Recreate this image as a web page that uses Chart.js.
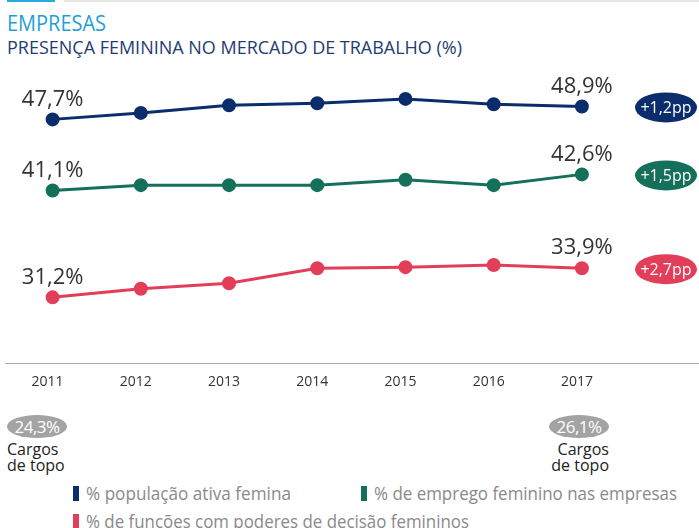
<!DOCTYPE html>
<html>
<head>
<meta charset="utf-8">
<script src="https://cdn.jsdelivr.net/npm/chart.js@4.4.1/dist/chart.umd.min.js"></script>
<style>
  body { margin: 0; background: #fff; font-family: "Open Sans", sans-serif; }
  #page { position: relative; width: 699px; height: 528px; overflow: hidden; }
  .abs { position: absolute; white-space: nowrap; }
  .title { left: 7px; top: 11px; font-size: 22px; line-height: 22px; color: #1e9fd8; transform-origin: left top; }
  .subtitle { left: 7px; top: 38px; font-size: 18px; line-height: 18px; color: #1f3c73; transform-origin: left top; }
  .pill { width: 60px; height: 23px; border-radius: 50%; background: #a3a3a3; color: #fff;
          font-size: 17px; line-height: 23px; text-align: center; letter-spacing: -0.5px; }
  .cargos { font-size: 16px; line-height: 16px; color: #222; }
  .legend-item { font-size: 19px; line-height: 19px; color: #8a8a8a; }
  .legend-bar { position: absolute; width: 6px; height: 15px; }
  .legend-text { position: absolute; transform-origin: left top; }
</style>
</head>
<body>
<div id="page">
  <div class="abs" style="left:7px;top:0;width:48px;height:2px;background:#29a9e1"></div>
  <div class="abs" style="left:64px;top:0;right:0;height:2px;background:#e6e6e6"></div>
  <div class="abs title" id="title">EMPRESAS</div>
  <div class="abs subtitle" id="subtitle">PRESENÇA FEMININA NO MERCADO DE TRABALHO (%)</div>

  <div class="abs" style="left:0;top:0;width:699px;height:410px">
    <canvas id="presencaChart"></canvas>
  </div>

  <div class="abs pill" id="topoStart" style="left:7px;top:415px"></div>
  <div class="abs cargos" style="left:7px;top:441px">Cargos<br>de topo</div>
  <div class="abs pill" id="topoEnd" style="left:549px;top:415px"></div>
  <div class="abs cargos" style="left:549px;top:441px;width:60px;text-align:right">Cargos<br>de topo</div>

  <div id="legend"></div>
</div>

<script>
const years = ["2011", "2012", "2013", "2014", "2015", "2016", "2017"];

// % população ativa feminina
const populacaoAtiva = [47.7, 48.3, 49.0, 49.2, 49.6, 49.1, 48.9];
// % emprego feminino nas empresas
const empregoFeminino = [41.1, 41.6, 41.6, 41.6, 42.1, 41.6, 42.6];
// % funções com poderes de decisão
const decisaoFeminina = [31.2, 32.0, 32.5, 33.9, 34.0, 34.2, 33.9];

// cargos de topo, 2011 e 2017
const cargosTopo = [24.3, 26.1];

const seriesLabels = [
  "% população ativa femina",
  "% de emprego feminino nas empresas",
  "% de funções com poderes de decisão femininos",
];
const seriesColors = ["#0b2d6b", "#14705a", "#e33e59"];

const fmt = (v) => v.toFixed(1).replace(".", ",");

document.getElementById("topoStart").textContent = fmt(cargosTopo[0]) + "%";
document.getElementById("topoEnd").textContent = fmt(cargosTopo[1]) + "%";

// squeeze text to the narrower look of the original font
const squeeze = (el, width) => {
  const w = el.getBoundingClientRect().width;
  if (w > 0) el.style.transform = "scaleX(" + width / w + ")";
};

// legend
const legendPos = [
  { left: 73, top: 484, w: 205 },
  { left: 361, top: 484, w: 303 },
  { left: 73, top: 512, w: 383 },
];
const legendBox = document.getElementById("legend");
seriesLabels.forEach((label, i) => {
  const item = document.createElement("div");
  item.className = "abs legend-item";
  item.style.left = legendPos[i].left + "px";
  item.style.top = legendPos[i].top + "px";
  item.innerHTML =
    '<span class="legend-bar" style="left:0;top:2px;background:' + seriesColors[i] + '"></span>' +
    '<span class="legend-text" style="left:13px;top:0">' + label + "</span>";
  legendBox.appendChild(item);
  squeeze(item.querySelector(".legend-text"), legendPos[i].w);
});
squeeze(document.getElementById("title"), 99);
squeeze(document.getElementById("subtitle"), 455);

// first / last value labels
const valueLabels = {
  id: "valueLabels",
  afterDatasetsDraw(chart) {
    const ctx = chart.ctx;
    ctx.save();
    ctx.font = '22px "Open Sans"';
    ctx.fillStyle = "#333";
    ctx.textAlign = "center";
    ctx.textBaseline = "middle";
    chart.data.datasets.forEach((ds, i) => {
      const pts = chart.getDatasetMeta(i).data;
      [0, pts.length - 1].forEach((j) => {
        ctx.fillText(fmt(ds.data[j]) + "%", pts[j].x, pts[j].y - 20);
      });
    });
    ctx.restore();
  },
};

// change badges at the right
const changeBadges = {
  id: "changeBadges",
  afterDatasetsDraw(chart) {
    const ctx = chart.ctx;
    ctx.save();
    chart.data.datasets.forEach((ds, i) => {
      const pts = chart.getDatasetMeta(i).data;
      const y = pts[pts.length - 1].y + 1;
      const x = chart.width - 33;
      ctx.beginPath();
      ctx.ellipse(x, y, 31, 15, 0, 0, Math.PI * 2);
      ctx.fillStyle = ds.borderColor;
      ctx.fill();
      const diff = ds.data[ds.data.length - 1] - ds.data[0];
      ctx.font = '16px "Open Sans"';
      ctx.fillStyle = "#fff";
      ctx.textAlign = "center";
      ctx.textBaseline = "middle";
      ctx.fillText("+" + fmt(diff) + "pp", x, y + 1);
    });
    ctx.restore();
  },
};

// grey base line across the full width
const baseLine = {
  id: "baseLine",
  beforeDatasetsDraw(chart) {
    const ctx = chart.ctx;
    const y = Math.round(chart.chartArea.bottom) - 0.5;
    ctx.save();
    ctx.strokeStyle = "#a8a8a8";
    ctx.lineWidth = 1;
    ctx.beginPath();
    ctx.moveTo(5, y);
    ctx.lineTo(chart.width, y);
    ctx.stroke();
    ctx.restore();
  },
};

const series = [populacaoAtiva, empregoFeminino, decisaoFeminina];

const ctx = document.getElementById("presencaChart").getContext("2d");
const presencaChart = new Chart(ctx, {
  type: "line",
  data: {
    labels: years,
    datasets: series.map((data, i) => ({
      label: seriesLabels[i],
      data: data,
      borderColor: seriesColors[i],
      backgroundColor: seriesColors[i],
      borderWidth: 3,
      pointRadius: 5.5,
      pointHoverRadius: 5.5,
      tension: 0,
    })),
  },
  options: {
    responsive: true,
    maintainAspectRatio: false,
    animation: false,
    layout: { padding: { top: 73, bottom: 11, left: 8, right: 73 } },
    plugins: {
      legend: { display: false },
      tooltip: { enabled: false },
    },
    scales: {
      x: {
        offset: true,
        grid: { display: false, drawTicks: false },
        border: { display: false },
        ticks: {
          padding: 9,
          labelOffset: -5,
          color: "#333",
          font: { family: "Open Sans", size: 14 },
        },
      },
      y: {
        display: false,
        min: 25,
        max: 52,
      },
    },
  },
  plugins: [baseLine, valueLabels, changeBadges],
});
</script>
</body>
</html>
